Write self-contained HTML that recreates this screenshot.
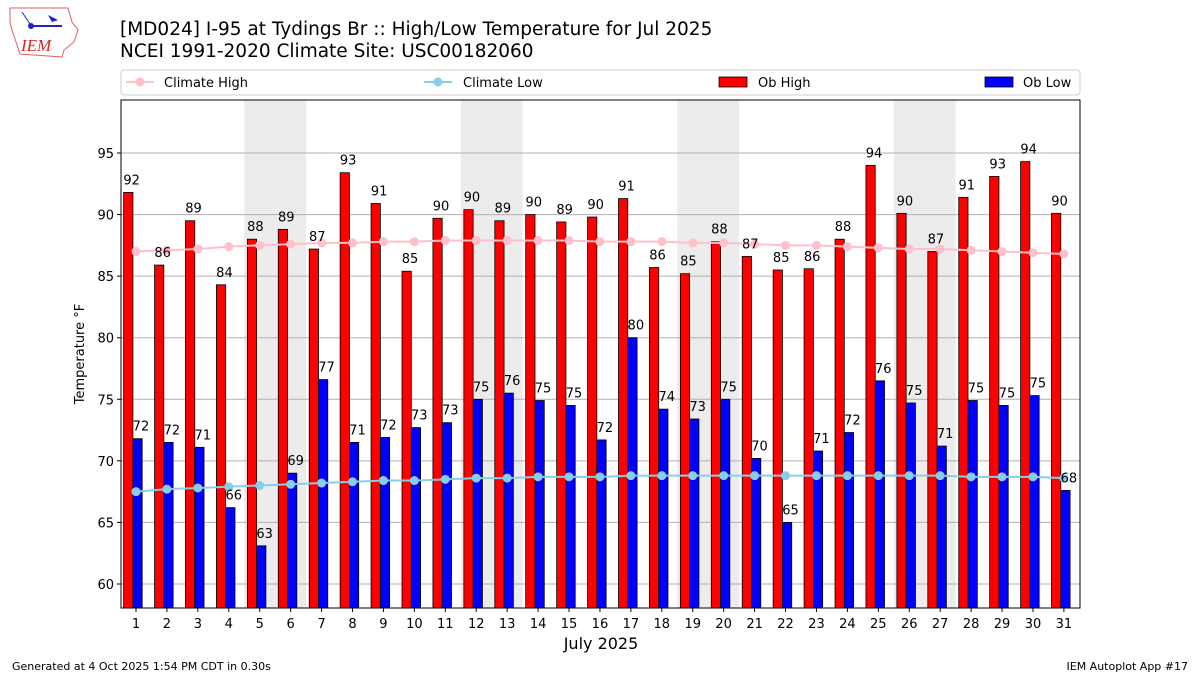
<!DOCTYPE html>
<html><head><meta charset="utf-8"><style>
body{margin:0;background:#fff;width:1200px;height:675px;overflow:hidden;font-family:"DejaVu Sans","Liberation Sans",sans-serif}
</style></head><body>
<svg id="s" width="1200" height="675" xmlns="http://www.w3.org/2000/svg" font-family="DejaVu Sans, Liberation Sans, sans-serif"></svg>
<script>
const hi=[91.8,85.9,89.5,84.3,88.0,88.8,87.2,93.4,90.9,85.4,89.7,90.4,89.5,90.0,89.4,89.8,91.3,85.7,85.2,87.8,86.6,85.5,85.6,88.0,94.0,90.1,87.0,91.4,93.1,94.3,90.1];
const hiL=[92,86,89,84,88,89,87,93,91,85,90,90,89,90,89,90,91,86,85,88,87,85,86,88,94,90,87,91,93,94,90];
const lo=[71.8,71.5,71.1,66.2,63.1,69.0,76.6,71.5,71.9,72.7,73.1,75.0,75.5,74.9,74.5,71.7,80.0,74.2,73.4,75.0,70.2,65.0,70.8,72.3,76.5,74.7,71.2,74.9,74.5,75.3,67.6];
const loL=[72,72,71,66,63,69,77,71,72,73,73,75,76,75,75,72,80,74,73,75,70,65,71,72,76,75,71,75,75,75,68];
const ch=[87.0,87.1,87.2,87.4,87.5,87.6,87.7,87.7,87.8,87.8,87.9,87.9,87.9,87.9,87.9,87.8,87.8,87.8,87.7,87.7,87.6,87.5,87.5,87.4,87.3,87.2,87.2,87.1,87.0,86.9,86.8];
const cl=[67.5,67.7,67.8,67.9,68.0,68.1,68.2,68.3,68.4,68.4,68.5,68.6,68.6,68.7,68.7,68.7,68.8,68.8,68.8,68.8,68.8,68.8,68.8,68.8,68.8,68.8,68.8,68.7,68.7,68.7,68.6];
const L=121,R=1080,T=100,B=608,S=30.93;
const X=d=>136+(d-1)*S, Y=v=>584-(v-60)*12.314;
let o='';
for(const d of [5,12,19,26]) o+=`<rect x="${X(d)-S/2}" y="${T}" width="${2*S}" height="${B-T}" fill="#ececec"/>`;
for(let v=60;v<=95;v+=5){o+=`<line x1="${L}" x2="${R}" y1="${Y(v)}" y2="${Y(v)}" stroke="#b0b0b0" stroke-width="1"/><line x1="${L-4}" x2="${L}" y1="${Y(v)}" y2="${Y(v)}" stroke="#000"/><text x="${L-7}" y="${Y(v)+5}" font-size="13" text-anchor="end">${v}</text>`;}
for(let i=0;i<31;i++){const x=X(i+1),w=0.3*S;
o+=`<rect x="${x-0.4*S}" y="${Y(hi[i])}" width="${w}" height="${B-Y(hi[i])}" fill="#f00" stroke="#000" stroke-width="0.8"/>`;
o+=`<rect x="${x-0.1*S}" y="${Y(lo[i])}" width="${w}" height="${B-Y(lo[i])}" fill="#00f" stroke="#000" stroke-width="0.8"/>`;
o+=`<line x1="${x}" x2="${x}" y1="${B}" y2="${B+4}" stroke="#000"/><text x="${x}" y="${B+20}" font-size="13" text-anchor="middle">${i+1}</text>`;}
const pl=(a,c)=>{let p=a.map((v,i)=>`${X(i+1)},${Y(v)}`).join(' ');let s=`<polyline points="${p}" fill="none" stroke="${c}" stroke-width="2"/>`;a.forEach((v,i)=>s+=`<circle cx="${X(i+1)}" cy="${Y(v)}" r="4.5" fill="${c}"/>`);return s;};
o+=pl(ch,'#ffc0cb')+pl(cl,'#87ceeb');
for(let i=0;i<31;i++){const x=X(i+1);
o+=`<text x="${x-0.14*S}" y="${Y(hi[i])-8}" font-size="13" text-anchor="middle">${hiL[i]}</text>`;
o+=`<text x="${x+0.16*S}" y="${Y(lo[i])-8}" font-size="13" text-anchor="middle">${loL[i]}</text>`;}
o+=`<rect x="${L}" y="${T}" width="${R-L}" height="${B-T}" fill="none" stroke="#000" stroke-width="1"/>`;
o+=`<text x="601" y="649" font-size="16" text-anchor="middle">July 2025</text>`;
o+=`<text transform="translate(84,354) rotate(-90)" font-size="13" text-anchor="middle">Temperature °F</text>`;
o+=`<text x="120" y="35" font-size="18.5">[MD024] I-95 at Tydings Br :: High/Low Temperature for Jul 2025</text>`;
o+=`<text x="120" y="57" font-size="18.5">NCEI 1991-2020 Climate Site: USC00182060</text>`;
o+=`<rect x="121" y="70" width="959" height="25" rx="3" fill="#fff" stroke="#ccc"/>`;
o+=`<line x1="126" x2="154" y1="82" y2="82" stroke="#ffc0cb" stroke-width="2"/><circle cx="140" cy="82" r="4.5" fill="#ffc0cb"/><text x="164" y="87" font-size="13">Climate High</text>`;
o+=`<line x1="424" x2="452" y1="82" y2="82" stroke="#87ceeb" stroke-width="2"/><circle cx="438" cy="82" r="4.5" fill="#87ceeb"/><text x="463" y="87" font-size="13">Climate Low</text>`;
o+=`<rect x="719" y="77" width="28" height="10" fill="#f00" stroke="#000" stroke-width="0.8"/><text x="758" y="87" font-size="13">Ob High</text>`;
o+=`<rect x="985" y="77" width="28" height="10" fill="#00f" stroke="#000" stroke-width="0.8"/><text x="1023" y="87" font-size="13">Ob Low</text>`;
o+=`<text x="12" y="670" font-size="11">Generated at 4 Oct 2025 1:54 PM CDT in 0.30s</text><text x="1188" y="670" font-size="11" text-anchor="end">IEM Autoplot App #17</text>`;
o+=`<path d="M10,8 L68,8 L72,22 L78,30 L74,42 L64,50 L62,57 L20,54 L16,42 L12,30 L10,22 Z" fill="none" stroke="#e06060" stroke-width="1"/>`;
o+=`<line x1="30" x2="62" y1="26" y2="26" stroke="#22c" stroke-width="2"/><circle cx="31" cy="26" r="3" fill="#22c"/><path d="M48,15 L58,20 L52,22 Z" fill="#22c"/><line x1="22" x2="30" y1="12" y2="24" stroke="#22c"/>`;
o+=`<text x="21" y="51" font-size="17" font-style="italic" fill="#d22" font-family="Liberation Serif, serif">IEM</text>`;
document.getElementById('s').innerHTML=o;
</script>
</body></html>
